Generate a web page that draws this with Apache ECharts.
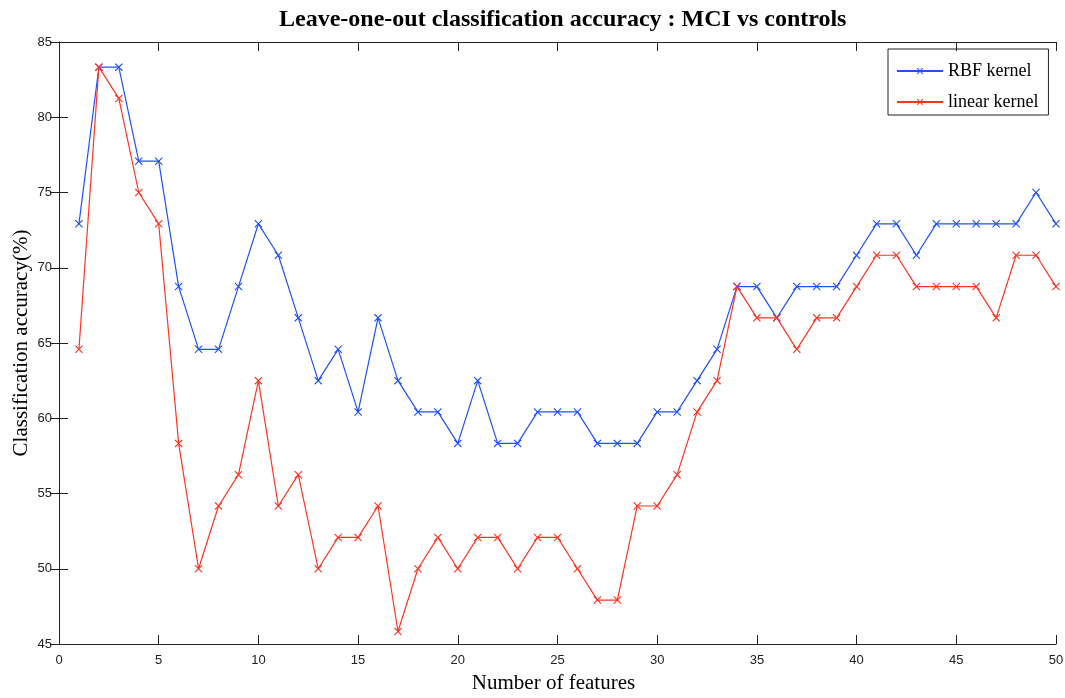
<!DOCTYPE html>
<html>
<head>
<meta charset="utf-8">
<script src="https://cdn.jsdelivr.net/npm/echarts@6/dist/echarts.min.js"></script>
<style>html,body{margin:0;padding:0;background:#fff}#c{width:1065px;height:698px}</style>
</head>
<body>
<div id="c"></div>
<script>
const features = Array.from({length: 50}, (_, i) => i + 1);
const rbfKernel = [72.92, 83.33, 83.33, 77.08, 77.08, 68.75, 64.58, 64.58, 68.75, 72.92,
  70.83, 66.67, 62.5, 64.58, 60.42, 66.67, 62.5, 60.42, 60.42, 58.33,
  62.5, 58.33, 58.33, 60.42, 60.42, 60.42, 58.33, 58.33, 58.33, 60.42,
  60.42, 62.5, 64.58, 68.75, 68.75, 66.67, 68.75, 68.75, 68.75, 70.83,
  72.92, 72.92, 70.83, 72.92, 72.92, 72.92, 72.92, 72.92, 75, 72.92];
const linearKernel = [64.58, 83.33, 81.25, 75, 72.92, 58.33, 50, 54.17, 56.25, 62.5,
  54.17, 56.25, 50, 52.08, 52.08, 54.17, 45.83, 50, 52.08, 50,
  52.08, 52.08, 50, 52.08, 52.08, 50, 47.92, 47.92, 54.17, 54.17,
  56.25, 60.42, 62.5, 68.75, 66.67, 66.67, 64.58, 66.67, 66.67, 68.75,
  70.83, 70.83, 68.75, 68.75, 68.75, 68.75, 66.67, 70.83, 70.83, 68.75];
const xTicks = [0, 5, 10, 15, 20, 25, 30, 35, 40, 45, 50];
const yTicks = [45, 50, 55, 60, 65, 70, 75, 80, 85];

const xMark = 'path://M0,1L1,0L5,4L9,0L10,1L6,5L10,9L9,10L5,6L1,10L0,9L4,5Z';
const serif = '"Liberation Serif", "DejaVu Serif", serif';
const sans = '"Liberation Sans", Arial, sans-serif';
const axisLine = {show: true, lineStyle: {color: '#222', width: 1}};
const tick = {show: true, inside: true, length: 9, lineStyle: {color: '#222', width: 1}};

const chart = echarts.init(document.getElementById('c'), null, {renderer: 'canvas'});
chart.setOption({
  animation: false,
  backgroundColor: '#fff',
  title: {
    text: 'Leave-one-out classification accuracy : MCI vs controls',
    left: 274, top: 3,
    textStyle: {fontFamily: serif, fontWeight: 'bold', fontSize: 24, color: '#000'}
  },
  legend: {
    orient: 'vertical', left: 888, top: 49,
    padding: [13, 10, 4, 8], itemGap: 13,
    itemWidth: 46, itemHeight: 8,
    borderColor: '#222', borderWidth: 1,
    textStyle: {fontFamily: serif, fontSize: 18, color: '#000'},
    data: ['RBF kernel', 'linear kernel']
  },
  grid: {left: 59, top: 42, right: 9, bottom: 54, containLabel: false, outerBoundsMode: 'none'},
  xAxis: [{
    type: 'value', min: 0, max: 50, interval: 5,
    name: 'Number of features', nameLocation: 'middle', nameGap: 29, nameMoveOverlap: false,
    nameTextStyle: {fontFamily: serif, fontSize: 21, color: '#000', padding: [0, 8, 0, 0]},
    axisLine: axisLine, axisTick: tick,
    axisLabel: {fontFamily: sans, fontSize: 13, color: '#222', margin: 10,
      formatter: v => xTicks.includes(v) ? String(v) : ''},
    splitLine: {show: false}
  }, {
    type: 'value', min: 0, max: 50, interval: 5, position: 'top',
    axisLine: axisLine, axisTick: tick, axisLabel: {show: false}, splitLine: {show: false}
  }],
  yAxis: [{
    type: 'value', min: 45, max: 85, interval: 5,
    name: 'Classification accuracy(%)', nameLocation: 'middle', nameGap: 27, nameMoveOverlap: false,
    nameTextStyle: {fontFamily: serif, fontSize: 21, color: '#000'},
    axisLine: axisLine, axisTick: tick,
    axisLabel: {fontFamily: sans, fontSize: 13, color: '#222', margin: 7,
      formatter: v => yTicks.includes(v) ? String(v) : ''},
    splitLine: {show: false}
  }, {
    type: 'value', min: 45, max: 85, interval: 5, position: 'right',
    axisLine: axisLine, axisTick: tick, axisLabel: {show: false}, splitLine: {show: false}
  }],
  series: [{
    name: 'RBF kernel', type: 'line',
    data: features.map((f, i) => [f, rbfKernel[i]]),
    color: '#2050ff', symbol: xMark, symbolSize: 8, showSymbol: true,
    lineStyle: {width: 1.2, color: '#2050ff'}, itemStyle: {color: '#2050ff'}
  }, {
    name: 'linear kernel', type: 'line',
    data: features.map((f, i) => [f, linearKernel[i]]),
    color: '#ff3322', symbol: xMark, symbolSize: 8, showSymbol: true,
    lineStyle: {width: 1.2, color: '#ff3322'}, itemStyle: {color: '#ff3322'}
  }]
});
</script>
</body>
</html>
